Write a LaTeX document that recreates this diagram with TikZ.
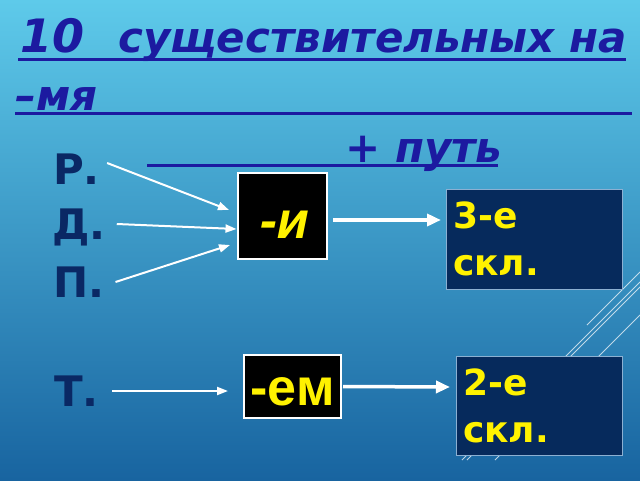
\documentclass[tikz,border=0pt]{standalone}
\usepackage{fontspec}
\setmainfont{DejaVu Sans}
\newfontfamily\arialfont{Liberation Sans}
\newfontfamily\arialslant[FakeSlant=0.2]{Liberation Sans Bold}
\usetikzlibrary{arrows.meta}

\definecolor{titleblue}{RGB}{28,26,160}
\definecolor{casenavy}{RGB}{10,40,100}
\definecolor{declnavy}{RGB}{6,42,92}
\definecolor{decledge}{RGB}{140,176,210}
\definecolor{bgtop}{RGB}{94,202,234}
\definecolor{bgbottom}{RGB}{24,100,160}

\begin{document}
\begin{tikzpicture}[x=1pt,y=-1pt,auto]
  \tikzset{title/.style={inner sep=0pt,anchor=base west,text=titleblue,font=\fontsize{42}{42}\selectfont\bfseries\itshape},
    case/.style={inner sep=0pt,anchor=west,text height=31pt,text depth=0pt,text=casenavy,font=\fontsize{42}{42}\selectfont\bfseries},
    ending/.style={draw=white,line width=2pt,fill=black,text=yellow,inner sep=0pt,text depth=0pt},
    decl/.style={draw=decledge,line width=1pt,fill=declnavy,text=yellow,align=left,inner ysep=0pt,inner xsep=7pt,font=\fontsize{36}{47}\selectfont\bfseries},
    link/.style={-{Triangle[length=11pt,width=8pt]},white,line width=2pt},
    biglink/.style={-{Triangle[length=14pt,width=12pt]},white,line width=3.5pt}}
  \shade[top color=bgtop,bottom color=bgbottom] (0,0) rectangle (640,480);
  \useasboundingbox (0,0) rectangle (640,480);
  \foreach \xa/\ya/\xb/\yb in {587/325/640/272,462/460/640/282,467/460/640/287,495/460/640/315}
    \draw[white,opacity=.7,line width=.8pt] (\xa,\ya) -- (\xb,\yb);

  \node[title] (t1) at (20,52) {{\fontsize{46}{46}\selectfont 10 \hspace{18pt}}существительных на};
  \node[title] (t2) at (15,110) {–мя};
  \node[title] (t3) at (345,162) {+ путь};
  \draw[titleblue,line width=3pt] (18,59) -- (626,59);
  \draw[titleblue,line width=3pt] (15,113) -- (632,113);
  \draw[titleblue,line width=3pt] (147,165) -- (498,165);

  \node[case] (r) at (53,169) {Р.};
  \node[case] (d) at (52,224) {Д.};
  \node[case] (p) at (53,282) {П.};
  \node[case] (t) at (54,391) {Т.};

  \node[ending,minimum width=89pt,minimum height=86pt,text height=44pt,font=\arialslant\fontsize{52}{52}\selectfont] (i) at (282,216) {-и};
  \node[ending,minimum width=97pt,minimum height=63pt,text height=37pt,font=\arialfont\fontsize{52}{52}\selectfont\bfseries] (em) at (292.5,386.5) {-ем};
  \node[decl,text width=162pt,minimum height=100pt] (d3) at (534,239) {3-е\\скл.};
  \node[decl,text width=152pt,minimum height=99pt] (d2) at (539,405.5) {2-е\\скл.};

  \path[link] ([xshift=7pt,yshift=6pt]r.east) edge ([xshift=-7.5pt,yshift=6pt]i.west);
  \path[link] ([xshift=11pt]d.east) edge ([yshift=-13pt]i.west);
  \path[link] ([xshift=11pt]p.east) edge ([xshift=-6.5pt,yshift=-29pt]i.west);
  \path[link] ([xshift=13pt]t.east) edge ([xshift=-15pt,yshift=-4.5pt]em.west);
  \path[biglink] ([xshift=5.5pt,yshift=-4pt]i.east) edge ([xshift=-4.5pt,yshift=19pt]d3.west);
  \path[biglink] ([xshift=1pt]em.east) edge ([xshift=-5.5pt,yshift=18.5pt]d2.west);
\end{tikzpicture}
\end{document}
